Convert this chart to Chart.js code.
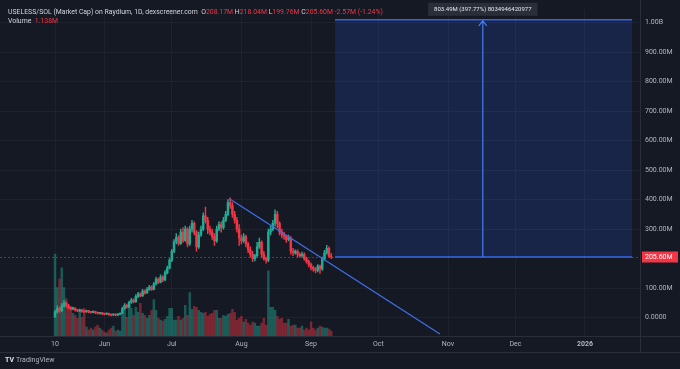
<!DOCTYPE html>
<html>
<head>
<meta charset="utf-8">
<script src="https://cdn.jsdelivr.net/npm/chart.js@4"></script>
<style>
  html, body { margin: 0; padding: 0; background: #151924; }
  #wrap { position: relative; width: 680px; height: 369px; overflow: hidden; font-family: Roboto, 'DejaVu Sans', sans-serif; }
  canvas { display: block; }
  .legend { position: absolute; left: 8px; top: 8px; font-size: 6.9px; line-height: 9px; color: #d1d4dc; white-space: nowrap; }
  .legend .v { color: #f23645; }
  .footer { position: absolute; left: 5px; top: 356px; font-size: 7px; color: #b2b5be; }
  .footer b { color: #e0e3eb; margin-right: 2px; }
</style>
</head>
<body>
<div id="wrap">
  <canvas id="chart" width="680" height="369"></canvas>
  <div class="legend">USELESS/SOL (Market Cap) on Raydium, 1D, dexscreener.com&nbsp; O<span class="v">208.17M</span> H<span class="v">218.04M</span> L<span class="v">199.76M</span> C<span class="v">205.60M</span> <span class="v">-2.57M (-1.24%)</span><br>Volume&nbsp; <span class="v">1.138M</span></div>
  <div class="footer"><b>TV</b>TradingView</div>
</div>
<script>
// daily candles from 10 May, values in millions (market cap)
const opens = [3,20,32,24,40,50,42,34,30,32,26,23,26,21,20,23,19,18,20,17,15,16,13,12,14,10,9,11,9,12,
  14,32,42,36,52,60,54,72,80,74,90,84,96,104,96,114,130,120,138,128,152,168,195,225,258,272,252,290,262,300,
  250,300,320,290,240,280,300,345,330,300,290,275,260,300,315,305,330,350,390,380,350,330,300,270,260,275,250,230,215,200,
  210,240,255,215,200,195,290,300,320,350,320,290,280,275,265,270,225,220,225,215,210,215,200,190,180,170,165,160,175,165,
  200,220,235,208.17];
const highs = [25,40,36,48,58,54,46,38,36,34,28,29,28,24,26,25,21,23,22,19,18,18,15,16,16,12,13,13,14,16,
  36,48,46,56,66,64,78,86,84,96,94,102,110,108,120,138,134,145,142,160,175,200,232,265,285,278,300,305,310,305,
  310,330,325,295,290,310,355,375,340,310,300,285,310,325,325,340,360,400,406,390,360,340,315,280,285,280,255,240,225,215,
  255,270,260,225,205,300,310,330,365,360,325,300,290,280,280,275,235,230,230,220,222,220,205,195,185,175,170,180,178,205,
  228,245,240,218.04];
const lows = [0,15,18,20,36,36,30,26,26,22,20,20,18,17,18,16,15,16,14,12,12,10,9,10,8,6,7,6,7,10,
  12,28,32,34,48,50,52,68,70,72,80,82,92,92,94,110,115,118,122,125,148,165,190,220,250,245,248,255,258,240,
  245,290,280,225,235,275,295,320,285,280,265,245,255,295,290,300,325,345,370,340,320,290,245,250,255,240,220,205,190,192,
  205,235,205,195,185,190,280,295,310,305,280,270,265,255,260,215,210,215,205,205,205,195,185,172,162,158,152,155,150,160,
  195,215,205,199.76];
const closes = [20,32,24,40,50,42,34,30,32,26,23,26,21,20,23,19,18,20,17,15,16,13,12,14,10,9,11,9,12,14,
  32,42,36,52,60,54,72,80,74,90,84,96,104,96,114,130,120,138,128,152,168,195,225,258,272,252,290,262,300,250,
  300,320,290,240,280,300,345,330,300,290,275,260,300,315,305,330,350,390,380,350,330,300,270,260,275,250,230,215,200,210,
  240,255,215,200,195,290,300,320,350,320,290,280,275,265,270,225,220,225,215,210,215,200,190,180,170,165,160,175,165,200,
  220,235,208.17,205.6];
const volumes = [83,49,58,69,49,38,29,29,23,21,18,26,19,28,9,6,8,6,9,11,8,6,4,3,6,8,10,5,6,5,
  21,31,19,31,28,21,29,24,33,23,21,18,21,26,37,26,18,16,15,17,20,28,28,16,16,20,16,18,31,21,
  44,27,30,29,26,24,23,24,20,22,23,26,26,18,18,21,20,22,23,27,24,16,18,20,14,17,13,11,14,13,
  10,10,13,18,11,66,29,29,26,20,17,18,13,13,17,10,11,11,8,8,10,6,8,6,14,8,6,8,10,9,
  8,8,7,5];

// time axis: day offsets from 10 May
const tickDays = [0, 22, 52, 83, 114, 144, 175, 205, 236];
const tickLabels = ['10', 'Jun', 'Jul', 'Aug', 'Sep', 'Oct', 'Nov', 'Dec', '2026'];
const priceTicks = [0, 100, 300, 400, 500, 600, 700, 800, 900, 1000];

// drawings
const lastPrice = 205.6;
const targetPrice = 1009.09;
const rangeStartDay = 124.7;
const rangeEndDay = 257;
const arrowDay = 190.5;
const rangeText = '803.49M (397.77%) 8034946420977';
const trendFrom = { day: 77.5, value: 404 };
const trendTo = { day: 171.4, value: -55 };

const GREEN = '#22ab94', RED = '#f23645';
const up = closes.map((c, i) => c >= opens[i]);

const overlay = {
  id: 'overlay',
  beforeDraw(chart) {
    const { ctx, width, height, chartArea: a } = chart;
    ctx.save();
    ctx.fillStyle = '#151924';
    ctx.fillRect(0, 0, width, height);
    ctx.strokeStyle = '#2a2e39';
    ctx.lineWidth = 1;
    ctx.beginPath();
    ctx.moveTo(0, a.bottom + 0.5); ctx.lineTo(width, a.bottom + 0.5);
    ctx.moveTo(0, a.bottom + 16.5); ctx.lineTo(width, a.bottom + 16.5);
    ctx.moveTo(a.right + 0.5, 0); ctx.lineTo(a.right + 0.5, a.bottom + 16);
    ctx.stroke();
    ctx.restore();
  },
  beforeDatasetsDraw(chart) {
    const { ctx, chartArea: a, scales: { x, y } } = chart;
    const x0 = x.getPixelForValue(rangeStartDay), x1 = x.getPixelForValue(rangeEndDay);
    const yt = y.getPixelForValue(targetPrice), yb = y.getPixelForValue(lastPrice);
    ctx.save();
    ctx.fillStyle = 'rgba(41,98,255,0.17)';
    ctx.fillRect(x0, yt, x1 - x0, yb - yt);
    ctx.strokeStyle = 'rgba(242,54,69,0.5)';
    ctx.setLineDash([2, 2]);
    ctx.beginPath();
    ctx.moveTo(a.left, Math.round(yb) + 0.5); ctx.lineTo(a.right, Math.round(yb) + 0.5);
    ctx.stroke();
    ctx.restore();
  },
  afterDatasetsDraw(chart) {
    const { ctx, scales: { x, y } } = chart;
    const x0 = x.getPixelForValue(rangeStartDay), x1 = x.getPixelForValue(rangeEndDay);
    const yt = y.getPixelForValue(targetPrice), yb = y.getPixelForValue(lastPrice);
    const xa = x.getPixelForValue(arrowDay);
    ctx.save();
    ctx.strokeStyle = '#3565e6';
    ctx.lineWidth = 1.5;
    ctx.beginPath();
    ctx.moveTo(x0, yt); ctx.lineTo(x1, yt);
    ctx.moveTo(x0, yb); ctx.lineTo(x1, yb);
    ctx.stroke();
    ctx.lineWidth = 1.2;
    ctx.strokeStyle = '#4a7cf0';
    ctx.beginPath();
    ctx.moveTo(xa, yb); ctx.lineTo(xa, yt + 1);
    ctx.moveTo(xa - 4, yt + 6); ctx.lineTo(xa, yt + 1); ctx.lineTo(xa + 4, yt + 6);
    ctx.stroke();
    // trend line
    ctx.strokeStyle = '#3f6fe6';
    ctx.lineWidth = 1.3;
    ctx.beginPath();
    ctx.moveTo(x.getPixelForValue(trendFrom.day), y.getPixelForValue(trendFrom.value));
    ctx.lineTo(x.getPixelForValue(trendTo.day), y.getPixelForValue(trendTo.value));
    ctx.stroke();
    // label above the range
    ctx.font = '6px Roboto, sans-serif';
    const w = ctx.measureText(rangeText).width + 12;
    ctx.fillStyle = '#2a2e39';
    ctx.fillRect(xa - w / 2, yt - 17, w, 13);
    ctx.fillStyle = '#e6e8ee';
    ctx.textAlign = 'center';
    ctx.textBaseline = 'middle';
    ctx.fillText(rangeText, xa, yt - 10.5);
    ctx.restore();
  },
  afterDraw(chart) {
    const { ctx, chartArea: a, scales: { y } } = chart;
    const yb = y.getPixelForValue(lastPrice);
    ctx.save();
    ctx.fillStyle = RED;
    ctx.fillRect(a.right + 2, yb - 5.5, 36, 11);
    ctx.fillStyle = '#ffffff';
    ctx.font = '7px Roboto, sans-serif';
    ctx.textBaseline = 'middle';
    ctx.fillText(lastPrice.toFixed(2) + 'M', a.right + 5, yb + 0.5);
    ctx.restore();
  }
};

new Chart(document.getElementById('chart'), {
  type: 'bar',
  data: {
    datasets: [
      {
        label: 'Body',
        data: opens.map((o, i) => ({ x: i, y: [o, closes[i]] })),
        backgroundColor: up.map(u => u ? GREEN : RED),
        barThickness: 1.8,
        minBarLength: 1,
        grouped: false,
        order: 1
      },
      {
        label: 'Wick',
        data: lows.map((l, i) => ({ x: i, y: [l, highs[i]] })),
        backgroundColor: up.map(u => u ? GREEN : RED),
        barThickness: 0.8,
        grouped: false,
        order: 2
      },
      {
        label: 'Volume',
        data: volumes.map((v, i) => ({ x: i, y: v })),
        yAxisID: 'yv',
        backgroundColor: up.map(u => u ? 'rgba(34,171,148,0.45)' : 'rgba(242,54,69,0.45)'),
        barThickness: 1.8,
        grouped: false,
        order: 3
      }
    ]
  },
  options: {
    responsive: false,
    animation: false,
    layout: { padding: { top: 5, bottom: 17, left: 0, right: 0 } },
    plugins: { legend: { display: false }, tooltip: { enabled: false } },
    scales: {
      x: {
        type: 'linear',
        min: -24.5,
        max: 260.5,
        offset: false,
        afterBuildTicks: s => { s.ticks = tickDays.map(v => ({ value: v })); },
        afterFit: s => { s.height = 16; },
        ticks: {
          color: '#b2b5be',
          padding: 4,
          maxRotation: 0,
          autoSkip: false,
          font: c => ({ family: 'Roboto', size: 7, weight: (c.tick && c.tick.value === 236) ? 'bold' : 'normal' }),
          callback: v => tickLabels[tickDays.indexOf(v)]
        },
        grid: { color: 'rgba(42,46,57,0.45)', drawTicks: false, offset: false },
        border: { display: false }
      },
      y: {
        position: 'right',
        min: -62,
        max: 1045,
        afterBuildTicks: s => { s.ticks = priceTicks.map(v => ({ value: v })); },
        afterFit: s => { s.width = 40; },
        ticks: {
          color: '#b2b5be',
          padding: 5,
          font: { family: 'Roboto', size: 7 },
          callback: v => v === 0 ? '0.0000' : (v >= 1000 ? (v / 1000).toFixed(2) + 'B' : v.toFixed(2) + 'M')
        },
        grid: { color: 'rgba(42,46,57,0.45)', drawTicks: false },
        border: { display: false }
      },
      yv: {
        display: false,
        min: 0,
        max: 331
      }
    }
  },
  plugins: [overlay]
});
</script>
</body>
</html>
